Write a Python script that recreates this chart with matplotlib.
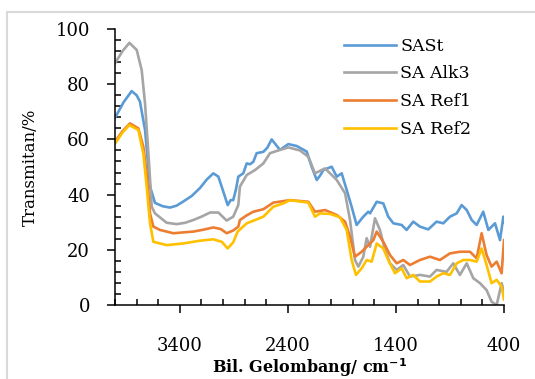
import matplotlib.pyplot as plt
from matplotlib.patches import Rectangle
from matplotlib.ticker import FixedLocator, MultipleLocator

# wavenumber (cm-1) / transmittance (%)
wn_sast = [4000, 3920, 3846, 3800, 3769, 3722, 3676, 3630, 3560, 3491, 3430, 3368,
           3290, 3213, 3150, 3090, 3043, 2957, 2930, 2906, 2880, 2859, 2813, 2781,
           2750, 2720, 2689, 2627, 2590, 2550, 2510, 2473, 2396, 2318, 2226, 2180,
           2133, 2100, 2072, 1995, 1948, 1902, 1856, 1810, 1764, 1702, 1656, 1640,
           1578, 1517, 1471, 1424, 1347, 1301, 1240, 1178, 1101, 1024, 962, 900,
           838, 792, 745, 699, 653, 592, 545, 483, 437, 406, 400]
t_sast = [67.8, 73.5, 77.5, 76.0, 73.7, 63.4, 42.9, 37.0, 35.8, 35.3, 36.0, 37.5,
          39.5, 42.4, 45.5, 47.7, 46.5, 36.2, 38.0, 38.0, 42.0, 46.5, 47.7, 51.3,
          51.0, 51.9, 55.0, 55.5, 57.0, 60.0, 58.0, 56.2, 58.3, 57.6, 55.6, 50.1,
          45.3, 47.0, 48.9, 50.1, 46.5, 47.7, 41.7, 35.6, 29.0, 32.0, 33.8, 33.2,
          37.4, 36.8, 32.0, 29.6, 29.0, 27.2, 30.2, 28.4, 27.4, 30.2, 29.6, 32.0,
          33.2, 36.2, 34.4, 30.8, 29.0, 33.8, 27.2, 29.6, 23.5, 32.0, 30.0]

wn_alk3 = [4000, 3930, 3867, 3799, 3753, 3722, 3691, 3660, 3630, 3522, 3429, 3350,
           3275, 3200, 3121, 3043, 2967, 2906, 2859, 2844, 2781, 2704, 2627, 2566,
           2473, 2396, 2288, 2211, 2149, 2056, 1948, 1871, 1825, 1779, 1748, 1702,
           1671, 1640, 1594, 1548, 1501, 1455, 1393, 1332, 1270, 1178, 1085, 1024,
           932, 870, 808, 745, 684, 622, 561, 515, 468, 422, 400]
t_alk3 = [87.6, 92.0, 95.0, 92.4, 85.1, 73.0, 55.0, 35.6, 33.2, 29.8, 29.3, 29.8,
          30.8, 32.0, 33.5, 33.5, 30.6, 32.0, 36.2, 42.9, 47.1, 48.9, 51.3, 55.0,
          56.2, 57.1, 56.0, 53.7, 47.7, 49.5, 45.3, 40.5, 30.8, 16.3, 13.9, 17.5,
          24.2, 21.1, 31.4, 27.2, 19.9, 15.1, 12.7, 14.5, 10.3, 10.9, 10.3, 12.7,
          12.0, 15.1, 10.9, 15.1, 9.7, 7.9, 5.4, 1.2, 0.0, 7.9, 5.0]

wn_ref1 = [4000, 3930, 3861, 3784, 3738, 3707, 3676, 3645, 3584, 3460, 3370, 3275,
           3180, 3090, 3020, 2967, 2906, 2859, 2844, 2780, 2720, 2627, 2535, 2380,
           2211, 2149, 2056, 1948, 1871, 1825, 1779, 1717, 1656, 1609, 1578, 1517,
           1455, 1393, 1332, 1270, 1178, 1085, 993, 900, 808, 715, 653, 607, 561,
           515, 468, 422, 400]
t_ref1 = [59.2, 63.0, 65.8, 64.0, 57.4, 47.7, 33.2, 28.4, 27.2, 26.0, 26.3, 26.6,
          27.3, 28.1, 27.5, 26.0, 27.0, 28.4, 30.8, 32.5, 33.8, 34.7, 37.1, 38.0,
          37.4, 33.8, 34.4, 32.6, 30.2, 24.7, 17.5, 19.3, 21.7, 23.5, 26.6, 22.9,
          18.1, 15.1, 16.3, 14.5, 16.3, 17.5, 16.3, 18.7, 19.3, 19.3, 16.9, 26.0, 18.1,
          13.9, 15.7, 11.5, 23.5]

wn_ref2 = [4000, 3930, 3867, 3784, 3738, 3707, 3676, 3645, 3522, 3368, 3213, 3090,
           3012, 2957, 2906, 2865, 2781, 2689, 2627, 2535, 2442, 2380, 2211, 2149,
           2103, 2010, 1918, 1856, 1810, 1770, 1717, 1671, 1625, 1578, 1517, 1471,
           1409, 1347, 1301, 1240, 1178, 1085, 1024, 962, 900, 838, 777, 715, 653,
           607, 561, 515, 468, 422, 400]
t_ref2 = [58.5, 62.5, 65.2, 63.4, 54.9, 42.9, 29.6, 22.9, 21.7, 22.3, 23.3, 23.8,
          22.9, 20.5, 22.7, 26.6, 29.6, 31.0, 32.0, 35.6, 36.8, 38.0, 37.1, 32.0,
          33.2, 33.0, 31.8, 27.2, 16.3, 10.9, 13.3, 16.3, 15.7, 22.3, 20.5, 16.3,
          11.5, 13.3, 9.7, 10.9, 8.5, 8.5, 10.3, 11.5, 10.9, 15.1, 16.3, 16.3, 15.7,
          20.5, 14.5, 7.9, 9.1, 6.7, 2.0]

labels = ['SASt', 'SA Alk3', 'SA Ref1', 'SA Ref2']
colors = ['#5B9BD5', '#A5A5A5', '#ED7D31', '#FFC000']

plt.rcParams['font.family'] = 'DejaVu Serif'

fig = plt.figure(figsize=(5.35, 3.79), dpi=100)
# light grey chart-area border, cropped on the right and bottom
fig.patches.append(Rectangle((7 / 535, -0.1), 1.2, 1 - 12 / 379 + 0.1,
                             transform=fig.transFigure, fill=False,
                             edgecolor='#D9D9D9', linewidth=1.5))
ax = fig.add_axes([115 / 535, 1 - 305 / 379, 389 / 535, 276 / 379])

series = [(wn_sast, t_sast), (wn_alk3, t_alk3), (wn_ref1, t_ref1), (wn_ref2, t_ref2)]
for (x, y), lab, c in zip(series, labels, colors):
    ax.plot(x, y, color=c, linewidth=1.9, label=lab)

ax.set_xlim(4000, 400)
ax.set_ylim(0, 100)
ax.xaxis.set_major_locator(FixedLocator([3400, 2400, 1400, 400]))
ax.xaxis.set_minor_locator(MultipleLocator(200))
ax.yaxis.set_major_locator(MultipleLocator(20))
ax.yaxis.set_minor_locator(MultipleLocator(4))

for s in ['top', 'right']:
    ax.spines[s].set_visible(False)
for s in ['left', 'bottom']:
    ax.spines[s].set_linewidth(1.1)

ax.tick_params(axis='x', which='major', direction='out', length=6, width=1.1,
               pad=17, labelsize=13)
ax.tick_params(axis='x', which='minor', direction='in', length=4, width=1.1)
ax.tick_params(axis='y', which='major', direction='out', length=6, width=1.1,
               pad=12, labelsize=13)
ax.tick_params(axis='y', which='minor', direction='in', length=4, width=1.1)

ax.set_xlabel('Bil. Gelombang/ cm$^{\\mathbf{-1}}$', fontsize=11.5,
              fontweight='bold', labelpad=1)
ax.set_ylabel('Transmitan/%', fontsize=12, labelpad=12)

ax.legend(loc='upper left', bbox_to_anchor=(328 / 535, 1 - 22 / 379),
          bbox_transform=fig.transFigure, frameon=False, fontsize=12.5,
          handlelength=3.0, handletextpad=0.25, labelspacing=0.62)

fig.savefig('out.png', dpi=100)
